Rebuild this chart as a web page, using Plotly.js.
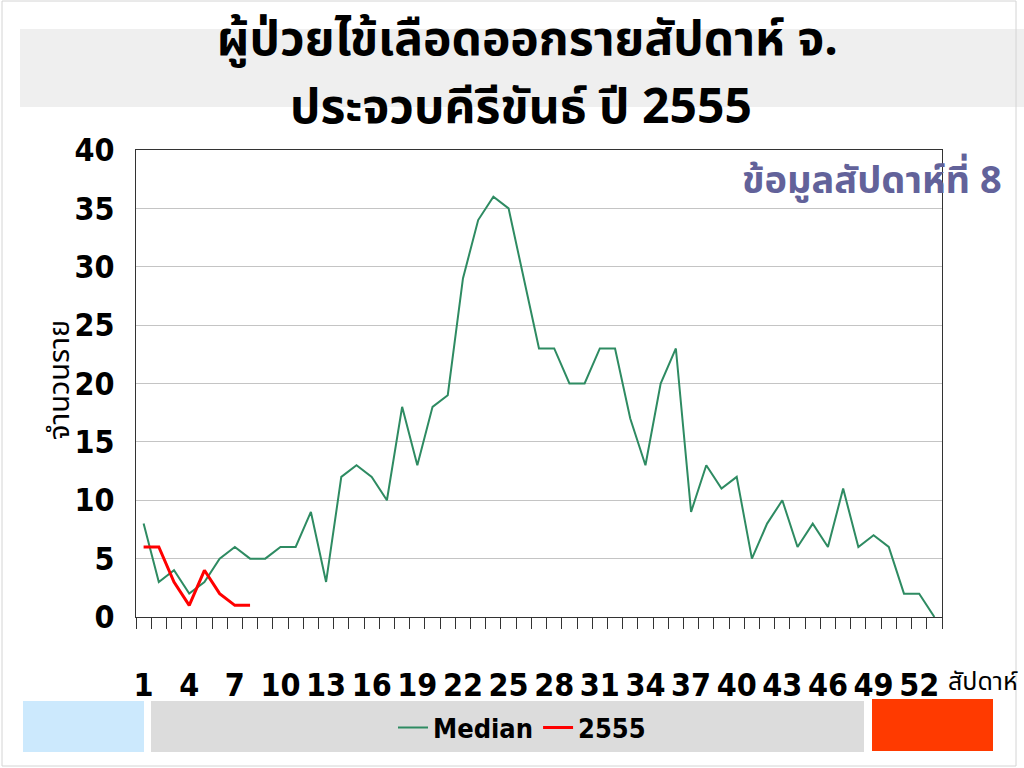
<!DOCTYPE html>
<html>
<head>
<meta charset="utf-8">
<script src="https://cdn.plot.ly/plotly-3.0.1.min.js"></script>
<style>html,body{margin:0;padding:0;background:#fff;}#chart{width:1024px;height:768px;}</style>
</head>
<body>
<div id="chart"></div>
<script>
// Weeks 1..53
var weeks = [];
for (var i = 1; i <= 53; i++) weeks.push(i);
var medianValues = [8,3,4,2,3,5,6,5,5,6,
                    6,9,3,12,13,12,10,18,13,18,
                    19,29,34,36,35,29,23,23,20,20,
                    23,23,17,13,20,23,9,13,11,12,
                    5,8,10,6,8,6,11,6,7,6,
                    2,2,0];
var weeks2555 = [1,2,3,4,5,6,7,8];
var values2555 = [6,6,3,1,4,2,1,1];
var xTickVals = [1,4,7,10,13,16,19,22,25,28,31,34,37,40,43,46,49,52];
var xTickText = ["1","4","7","10","13","16","19","22","25","28","31","34","37","40","43","46","49","52"];
var yTickVals = [0,5,10,15,20,25,30,35,40];

var L = 136, R = 942, T = 150, B = 617;
function xp(px){ return (px - L) / (R - L); }
function yp(py){ return (B - py) / (B - T); }

var narrow = "DejaVu Sans Condensed, Liberation Sans Narrow, sans-serif";
var thai = "Noto Sans Thai, Tahoma, DejaVu Sans, sans-serif";

var traces = [
  {x: weeks, y: medianValues, type: 'scatter', mode: 'lines', name: 'Median',
   line: {color: '#2e8b62', width: 2}},
  {x: weeks2555, y: values2555, type: 'scatter', mode: 'lines', name: '2555',
   line: {color: '#ff0000', width: 3}}
];

var layout = {
  width: 1024, height: 768,
  margin: {l: L, r: 1024 - R, t: T, b: 768 - B},
  paper_bgcolor: '#ffffff', plot_bgcolor: '#ffffff',
  showlegend: true,
  title: {
    text: 'ผู้ป่วยไข้เลือดออกรายสัปดาห์ จ.',
    font: {family: thai, size: 48, color: '#000000', weight: 'bold'},
    x: 0.515, xanchor: 'center', xref: 'container',
    y: 1 - 38/768, yanchor: 'middle', yref: 'container'
  },
  xaxis: {
    range: [0.5, 53.5], tickmode: 'array', tickvals: xTickVals, ticktext: xTickText,
    ticks: '', ticklabelstandoff: 40,
    tickfont: {family: narrow, size: 32, color: '#000', weight: 'bold'},
    showgrid: false, zeroline: false,
    showline: true, linecolor: '#333', linewidth: 1, mirror: true,
    minor: {tickmode: 'linear', tick0: 0.5, dtick: 1, ticks: 'outside', ticklen: 11, tickcolor: '#333', showgrid: false},
    fixedrange: true
  },
  yaxis: {
    range: [0, 40], tickmode: 'array', tickvals: yTickVals,
    ticks: '', ticklabelstandoff: 14,
    tickfont: {family: narrow, size: 32, color: '#000', weight: 'bold'},
    showgrid: true, gridcolor: '#c4c4c4', gridwidth: 1, zeroline: false,
    showline: true, linecolor: '#333', linewidth: 1, mirror: true,
    fixedrange: true
  },
  legend: {
    orientation: 'h', x: xp(522), xanchor: 'center', y: yp(728), yanchor: 'middle',
    bgcolor: 'rgba(0,0,0,0)',
    font: {family: narrow, size: 27, color: '#000', weight: 'bold'}
  },
  shapes: [
    {type: 'rect', xref: 'paper', yref: 'paper', x0: xp(20), x1: xp(1024), y0: yp(29), y1: yp(107),
     fillcolor: '#efefef', line: {width: 0}, layer: 'below'},
    {type: 'rect', xref: 'paper', yref: 'paper', x0: xp(23), x1: xp(144), y0: yp(701), y1: yp(752),
     fillcolor: '#cce9fd', line: {width: 0}, layer: 'below'},
    {type: 'rect', xref: 'paper', yref: 'paper', x0: xp(151), x1: xp(864), y0: yp(701), y1: yp(752),
     fillcolor: '#dcdcdc', line: {width: 0}, layer: 'below'},
    {type: 'rect', xref: 'paper', yref: 'paper', x0: xp(872), x1: xp(993), y0: yp(699), y1: yp(751),
     fillcolor: '#ff3a00', line: {width: 0}, layer: 'below'},
    {type: 'rect', xref: 'paper', yref: 'paper', x0: xp(2), x1: xp(1016), y0: yp(1), y1: yp(766),
     fillcolor: 'rgba(0,0,0,0)', line: {width: 1, color: '#d4d4d4'}, layer: 'below'}
  ],
  annotations: [
    {text: 'ประจวบคีรีขันธ์ ปี 2555', xref: 'paper', yref: 'paper', x: xp(521), y: yp(108),
     xanchor: 'center', yanchor: 'middle', showarrow: false,
     font: {family: thai, size: 48, color: '#000', weight: 'bold'}},
    {text: 'ข้อมูลสัปดาห์ที่ 8', xref: 'paper', yref: 'paper', x: xp(1004), y: yp(182),
     xanchor: 'right', yanchor: 'middle', showarrow: false,
     font: {family: thai, size: 38, color: '#62629a', weight: 'bold'}},
    {text: 'สัปดาห์', xref: 'paper', yref: 'paper', x: xp(946), y: yp(682),
     xanchor: 'left', yanchor: 'middle', showarrow: false,
     font: {family: thai, size: 25, color: '#000'}},
    {text: 'จำนวนราย', xref: 'paper', yref: 'paper', x: xp(60), y: yp(380),
     xanchor: 'center', yanchor: 'middle', textangle: -90, showarrow: false,
     font: {family: thai, size: 29, color: '#000'}}
  ]
};

Plotly.newPlot('chart', traces, layout, {displayModeBar: false, staticPlot: true});
</script>
</body>
</html>
